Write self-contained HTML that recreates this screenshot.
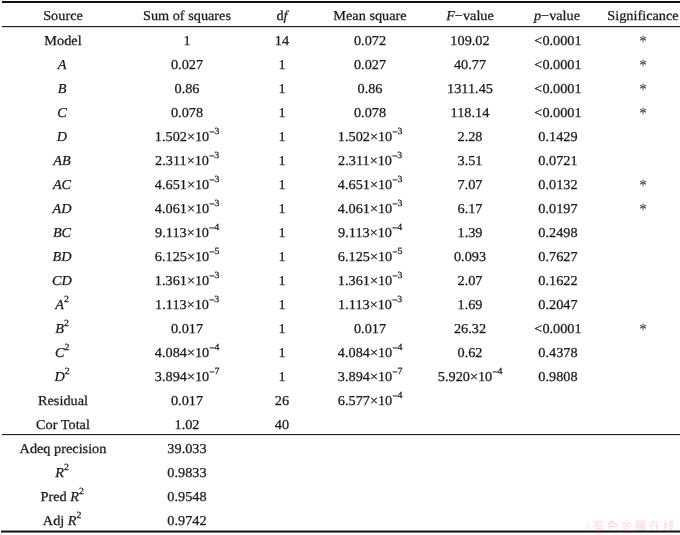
<!DOCTYPE html>
<html><head><meta charset="utf-8"><title>ANOVA table</title>
<style>
html,body{margin:0;padding:0;background:#fff;}
body{width:680px;height:535px;position:relative;overflow:hidden;font-family:"Liberation Serif","Noto Serif CJK SC",serif;font-size:13.6px;color:#1a1a1a;-webkit-text-stroke:0.25px #1a1a1a;text-rendering:geometricPrecision;}
.c{position:absolute;width:160px;height:24px;line-height:24px;text-align:center;white-space:nowrap;transform:scaleX(1.05);transform-origin:50% 50%;}
.a{font-size:17.5px;transform:scaleX(0.88);color:#3a3a3a;-webkit-text-stroke:0;line-height:25px;}
sup{font-size:9.4px;line-height:0;vertical-align:baseline;position:relative;top:-7px;letter-spacing:-0.3px;}
sup b{font-weight:bold;position:relative;top:1.3px;}
.l{position:absolute;left:2px;width:678px;background:#111;}
.wm{position:absolute;left:585px;top:517.5px;height:16px;font-weight:300;font-family:"Noto Sans CJK SC","WenQuanYi Zen Hei",sans-serif;font-size:12px;line-height:16px;color:rgba(238,110,110,0.36);white-space:nowrap;letter-spacing:2.1px;-webkit-text-stroke:0;}
.wm span{display:inline-block;width:7.5px;letter-spacing:0;font-size:8.5px;transform:scaleX(0.62);transform-origin:0 50%;position:relative;top:-0.5px;}
</style></head><body>
<div class="l" style="top:1px;height:2px"></div>
<div class="l" style="top:26px;height:1px;background:#222"></div>
<div class="l" style="top:27px;height:1px;background:rgba(0,0,0,0.18)"></div>
<div class="l" style="top:434px;height:1px;background:#222"></div>
<div class="l" style="top:435px;height:1px;background:rgba(0,0,0,0.12)"></div>
<div class="l" style="top:530px;height:1px;left:1px;width:679px;background:rgba(0,0,0,0.45)"></div>
<div class="l" style="top:531px;height:1px;left:1px;width:679px"></div>
<div class="l" style="top:532px;height:1px;left:1px;width:679px;background:rgba(0,0,0,0.5)"></div>
<div class="c" style="left:-17.5px;top:4px">Source</div>
<div class="c" style="left:107.0px;top:4px">Sum of squares</div>
<div class="c" style="left:202.0px;top:4px">d<i>f</i></div>
<div class="c" style="left:290.0px;top:4px">Mean square</div>
<div class="c" style="left:390.0px;top:4px"><i>F</i>−value</div>
<div class="c" style="left:477.0px;top:4px"><i>p</i>−value</div>
<div class="c" style="left:563.0px;top:4px">Significance</div>
<div class="c" style="left:-17.5px;top:29px">Model</div>
<div class="c" style="left:107.0px;top:29px">1</div>
<div class="c" style="left:202.0px;top:29px">14</div>
<div class="c" style="left:290.0px;top:29px">0.072</div>
<div class="c" style="left:390.0px;top:29px">109.02</div>
<div class="c" style="left:477.8px;top:29px">&lt;0.0001</div>
<div class="c a" style="left:563.0px;top:29px">*</div>
<div class="c" style="left:-18.3px;top:53px"><i>A</i></div>
<div class="c" style="left:107.0px;top:53px">0.027</div>
<div class="c" style="left:202.0px;top:53px">1</div>
<div class="c" style="left:290.0px;top:53px">0.027</div>
<div class="c" style="left:390.0px;top:53px">40.77</div>
<div class="c" style="left:477.8px;top:53px">&lt;0.0001</div>
<div class="c a" style="left:563.0px;top:53px">*</div>
<div class="c" style="left:-18.3px;top:77px"><i>B</i></div>
<div class="c" style="left:107.0px;top:77px">0.86</div>
<div class="c" style="left:202.0px;top:77px">1</div>
<div class="c" style="left:290.0px;top:77px">0.86</div>
<div class="c" style="left:390.0px;top:77px">1311.45</div>
<div class="c" style="left:477.8px;top:77px">&lt;0.0001</div>
<div class="c a" style="left:563.0px;top:77px">*</div>
<div class="c" style="left:-18.3px;top:101px"><i>C</i></div>
<div class="c" style="left:107.0px;top:101px">0.078</div>
<div class="c" style="left:202.0px;top:101px">1</div>
<div class="c" style="left:290.0px;top:101px">0.078</div>
<div class="c" style="left:390.0px;top:101px">118.14</div>
<div class="c" style="left:477.8px;top:101px">&lt;0.0001</div>
<div class="c a" style="left:563.0px;top:101px">*</div>
<div class="c" style="left:-18.3px;top:125px"><i>D</i></div>
<div class="c" style="left:107.0px;top:125px">1.502×10<sup><b>−</b>3</sup></div>
<div class="c" style="left:202.0px;top:125px">1</div>
<div class="c" style="left:290.0px;top:125px">1.502×10<sup><b>−</b>3</sup></div>
<div class="c" style="left:390.0px;top:125px">2.28</div>
<div class="c" style="left:477.8px;top:125px">0.1429</div>
<div class="c" style="left:-18.3px;top:149px"><i>AB</i></div>
<div class="c" style="left:107.0px;top:149px">2.311×10<sup><b>−</b>3</sup></div>
<div class="c" style="left:202.0px;top:149px">1</div>
<div class="c" style="left:290.0px;top:149px">2.311×10<sup><b>−</b>3</sup></div>
<div class="c" style="left:390.0px;top:149px">3.51</div>
<div class="c" style="left:477.8px;top:149px">0.0721</div>
<div class="c" style="left:-18.3px;top:173px"><i>AC</i></div>
<div class="c" style="left:107.0px;top:173px">4.651×10<sup><b>−</b>3</sup></div>
<div class="c" style="left:202.0px;top:173px">1</div>
<div class="c" style="left:290.0px;top:173px">4.651×10<sup><b>−</b>3</sup></div>
<div class="c" style="left:390.0px;top:173px">7.07</div>
<div class="c" style="left:477.8px;top:173px">0.0132</div>
<div class="c a" style="left:563.0px;top:173px">*</div>
<div class="c" style="left:-18.3px;top:197px"><i>AD</i></div>
<div class="c" style="left:107.0px;top:197px">4.061×10<sup><b>−</b>3</sup></div>
<div class="c" style="left:202.0px;top:197px">1</div>
<div class="c" style="left:290.0px;top:197px">4.061×10<sup><b>−</b>3</sup></div>
<div class="c" style="left:390.0px;top:197px">6.17</div>
<div class="c" style="left:477.8px;top:197px">0.0197</div>
<div class="c a" style="left:563.0px;top:197px">*</div>
<div class="c" style="left:-18.3px;top:221px"><i>BC</i></div>
<div class="c" style="left:107.0px;top:221px">9.113×10<sup><b>−</b>4</sup></div>
<div class="c" style="left:202.0px;top:221px">1</div>
<div class="c" style="left:290.0px;top:221px">9.113×10<sup><b>−</b>4</sup></div>
<div class="c" style="left:390.0px;top:221px">1.39</div>
<div class="c" style="left:477.8px;top:221px">0.2498</div>
<div class="c" style="left:-18.3px;top:245px"><i>BD</i></div>
<div class="c" style="left:107.0px;top:245px">6.125×10<sup><b>−</b>5</sup></div>
<div class="c" style="left:202.0px;top:245px">1</div>
<div class="c" style="left:290.0px;top:245px">6.125×10<sup><b>−</b>5</sup></div>
<div class="c" style="left:390.0px;top:245px">0.093</div>
<div class="c" style="left:477.8px;top:245px">0.7627</div>
<div class="c" style="left:-18.3px;top:269px"><i>CD</i></div>
<div class="c" style="left:107.0px;top:269px">1.361×10<sup><b>−</b>3</sup></div>
<div class="c" style="left:202.0px;top:269px">1</div>
<div class="c" style="left:290.0px;top:269px">1.361×10<sup><b>−</b>3</sup></div>
<div class="c" style="left:390.0px;top:269px">2.07</div>
<div class="c" style="left:477.8px;top:269px">0.1622</div>
<div class="c" style="left:-18.3px;top:293px"><i>A</i><sup>2</sup></div>
<div class="c" style="left:107.0px;top:293px">1.113×10<sup><b>−</b>3</sup></div>
<div class="c" style="left:202.0px;top:293px">1</div>
<div class="c" style="left:290.0px;top:293px">1.113×10<sup><b>−</b>3</sup></div>
<div class="c" style="left:390.0px;top:293px">1.69</div>
<div class="c" style="left:477.8px;top:293px">0.2047</div>
<div class="c" style="left:-18.3px;top:317px"><i>B</i><sup>2</sup></div>
<div class="c" style="left:107.0px;top:317px">0.017</div>
<div class="c" style="left:202.0px;top:317px">1</div>
<div class="c" style="left:290.0px;top:317px">0.017</div>
<div class="c" style="left:390.0px;top:317px">26.32</div>
<div class="c" style="left:477.8px;top:317px">&lt;0.0001</div>
<div class="c a" style="left:563.0px;top:317px">*</div>
<div class="c" style="left:-18.3px;top:341px"><i>C</i><sup>2</sup></div>
<div class="c" style="left:107.0px;top:341px">4.084×10<sup><b>−</b>4</sup></div>
<div class="c" style="left:202.0px;top:341px">1</div>
<div class="c" style="left:290.0px;top:341px">4.084×10<sup><b>−</b>4</sup></div>
<div class="c" style="left:390.0px;top:341px">0.62</div>
<div class="c" style="left:477.8px;top:341px">0.4378</div>
<div class="c" style="left:-18.3px;top:365px"><i>D</i><sup>2</sup></div>
<div class="c" style="left:107.0px;top:365px">3.894×10<sup><b>−</b>7</sup></div>
<div class="c" style="left:202.0px;top:365px">1</div>
<div class="c" style="left:290.0px;top:365px">3.894×10<sup><b>−</b>7</sup></div>
<div class="c" style="left:390.0px;top:365px">5.920×10<sup><b>−</b>4</sup></div>
<div class="c" style="left:477.8px;top:365px">0.9808</div>
<div class="c" style="left:-17.5px;top:389px">Residual</div>
<div class="c" style="left:107.0px;top:389px">0.017</div>
<div class="c" style="left:202.0px;top:389px">26</div>
<div class="c" style="left:290.0px;top:389px">6.577×10<sup><b>−</b>4</sup></div>
<div class="c" style="left:-17.5px;top:413px">Cor Total</div>
<div class="c" style="left:107.0px;top:413px">1.02</div>
<div class="c" style="left:202.0px;top:413px">40</div>
<div class="c" style="left:-17.5px;top:437px">Adeq precision</div>
<div class="c" style="left:107.0px;top:437px">39.033</div>
<div class="c" style="left:-18.3px;top:461px"><i>R</i><sup>2</sup></div>
<div class="c" style="left:107.0px;top:461px">0.9833</div>
<div class="c" style="left:-18.3px;top:485px">Pred <i>R</i><sup>2</sup></div>
<div class="c" style="left:107.0px;top:485px">0.9548</div>
<div class="c" style="left:-18.3px;top:509px">Adj <i>R</i><sup>2</sup></div>
<div class="c" style="left:107.0px;top:509px">0.9742</div>
<div class="wm"><span>@</span>有色金属在线</div>
</body></html>
